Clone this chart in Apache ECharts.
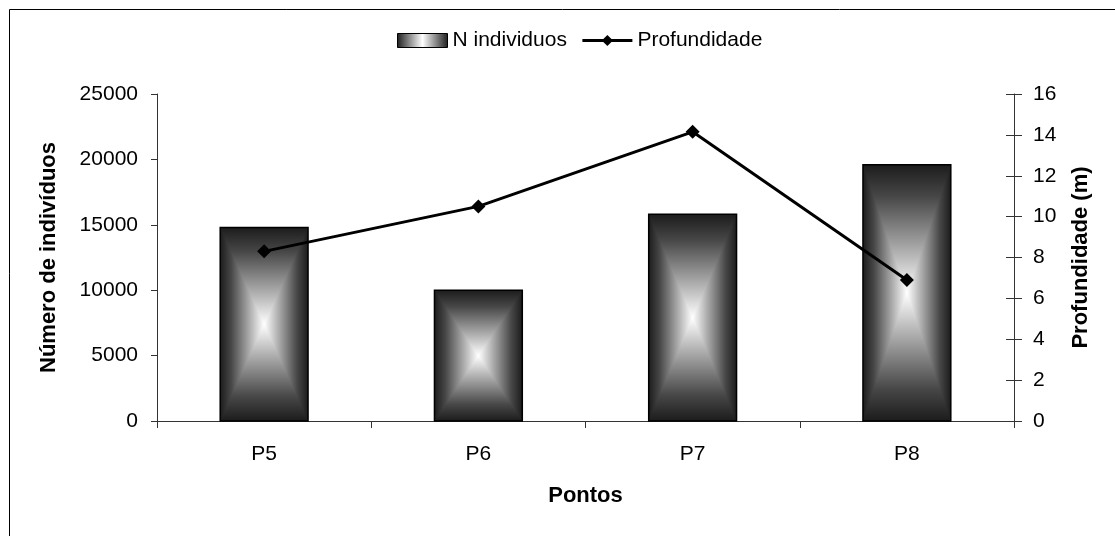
<!DOCTYPE html>
<html>
<head>
<meta charset="utf-8">
<script src="https://cdn.jsdelivr.net/npm/echarts@6/dist/echarts.min.js"></script>
<style>
html,body{margin:0;padding:0;background:#fff;}
#chart{width:1115px;height:536px;}
</style>
</head>
<body>
<div id="chart"></div>
<script>
const categories = ['P5', 'P6', 'P7', 'P8'];
const nIndividuos = [14800, 10000, 15800, 19600];
const profundidade = [8.3, 10.5, 14.15, 6.9];
const leftTicks = { min: 0, max: 25000, interval: 5000 };
const rightTicks = { min: 0, max: 16, interval: 2 };

const FONT = '"Liberation Sans", Arial, sans-serif';
const LABEL_SIZE = 21;
const NAME_SIZE = 22;
const DARK = '#1c1c1c';
const stopsEdgeToCenter = [
  { offset: 0, color: DARK },
  { offset: 0.25, color: '#474747' },
  { offset: 0.7, color: '#b4b4b4' },
  { offset: 1, color: '#ffffff' }
];
function lg(x0, y0, x1, y1, stops) {
  return new echarts.graphic.LinearGradient(x0, y0, x1, y1, stops);
}
const reversedStops = stopsEdgeToCenter.map(s => ({ offset: 1 - s.offset, color: s.color })).reverse();
const symmetricStops = stopsEdgeToCenter.map(s => ({ offset: s.offset / 2, color: s.color }))
  .concat(reversedStops.map(s => ({ offset: 0.5 + s.offset / 2, color: s.color })));

const legendGrad = lg(0, 0, 1, 0, [
  { offset: 0, color: DARK }, { offset: 0.5, color: '#ffffff' }, { offset: 1, color: DARK }
]);

const chart = echarts.init(document.getElementById('chart'), null, { renderer: 'canvas' });

function renderBar(params, api) {
  const idx = api.value(0);
  const v = api.value(1);
  const top = api.coord([idx, v]);
  const base = api.coord([idx, 0]);
  const w = api.size([1, 0])[0] * 0.41;
  const L = top[0] - w / 2, R = top[0] + w / 2, T = top[1], B = base[1];
  const cx = top[0], cy = (T + B) / 2;
  return {
    type: 'group',
    children: [
      { type: 'rect', shape: { x: L, y: T, width: w, height: B - T },
        style: { fill: lg(0, 0, 1, 0, symmetricStops), stroke: null } },
      { type: 'polygon', shape: { points: [[L, T], [R, T], [cx, cy]] },
        style: { fill: lg(0, 0, 0, 1, stopsEdgeToCenter), stroke: null } },
      { type: 'polygon', shape: { points: [[L, B], [R, B], [cx, cy]] },
        style: { fill: lg(0, 0, 0, 1, reversedStops), stroke: null } },
      { type: 'rect', shape: { x: L, y: T, width: w, height: B - T },
        style: { fill: null, stroke: '#000', lineWidth: 1.5 } }
    ]
  };
}

const axisLineStyle = { color: '#333', width: 1 };

chart.setOption({
  animation: false,
  backgroundColor: '#fff',
  textStyle: { fontFamily: FONT, color: '#000' },
  graphic: [{
    type: 'rect', silent: true, z: -10,
    shape: { x: 9.5, y: 9.5, width: 1300, height: 700 },
    style: { fill: null, stroke: '#000', lineWidth: 1 }
  }],
  legend: {
    left: 392, top: 25,
    itemWidth: 50, itemHeight: 14, itemGap: 14,
    lineStyle: { width: 3, color: '#000' },
    textStyle: { fontFamily: FONT, fontSize: LABEL_SIZE, color: '#000' },
    data: [
      { name: 'N individuos', icon: 'rect', itemStyle: { color: legendGrad, borderColor: '#000', borderWidth: 1 } },
      { name: 'Profundidade', itemStyle: { color: '#000' } }
    ]
  },
  grid: { left: 157, right: 101, top: 94, bottom: 115 },
  xAxis: {
    type: 'category',
    data: categories,
    boundaryGap: true,
    name: 'Pontos',
    nameLocation: 'middle',
    nameGap: 64,
    nameTextStyle: { fontFamily: FONT, fontSize: NAME_SIZE, fontWeight: 'bold', color: '#000' },
    axisLine: { lineStyle: axisLineStyle },
    axisTick: { show: true, length: 7, alignWithLabel: false, lineStyle: axisLineStyle },
    axisLabel: { fontFamily: FONT, fontSize: LABEL_SIZE, color: '#000', margin: 23 },
    splitLine: { show: false }
  },
  yAxis: [
    {
      type: 'value', position: 'left',
      min: leftTicks.min, max: leftTicks.max, interval: leftTicks.interval,
      name: 'Número de indivíduos', nameLocation: 'middle', nameGap: 97, nameRotate: 90,
      nameTextStyle: { fontFamily: FONT, fontSize: NAME_SIZE, fontWeight: 'bold', color: '#000' },
      axisLine: { show: true, lineStyle: axisLineStyle },
      axisTick: { show: true, length: 6, lineStyle: axisLineStyle },
      axisLabel: { fontFamily: FONT, fontSize: LABEL_SIZE, color: '#000', margin: 19,
        formatter: v => String(v) },
      splitLine: { show: false }
    },
    {
      type: 'value', position: 'right',
      min: rightTicks.min, max: rightTicks.max, interval: rightTicks.interval,
      name: 'Profundidade (m)', nameLocation: 'middle', nameGap: 56, nameRotate: 90,
      nameTextStyle: { fontFamily: FONT, fontSize: NAME_SIZE, fontWeight: 'bold', color: '#000' },
      axisLine: { show: true, lineStyle: axisLineStyle },
      axisTick: { show: true, length: 8, lineStyle: axisLineStyle },
      axisLabel: { fontFamily: FONT, fontSize: LABEL_SIZE, color: '#000', margin: 19 },
      splitLine: { show: false }
    },
    {
      type: 'value', position: 'right',
      min: rightTicks.min, max: rightTicks.max, interval: rightTicks.interval,
      axisLine: { show: false },
      axisTick: { show: true, inside: true, length: 8, lineStyle: axisLineStyle },
      axisLabel: { show: false },
      splitLine: { show: false }
    }
  ],
  series: [
    {
      name: 'N individuos',
      type: 'custom',
      xAxisIndex: 0, yAxisIndex: 0,
      itemStyle: { color: legendGrad, borderColor: '#000', borderWidth: 1 },
      encode: { x: 0, y: 1 },
      data: categories.map((c, i) => [i, nIndividuos[i]]),
      renderItem: renderBar,
      z: 2
    },
    {
      name: 'Profundidade',
      type: 'line',
      yAxisIndex: 1,
      data: profundidade,
      symbol: 'diamond',
      symbolSize: 14,
      lineStyle: { color: '#000', width: 3 },
      itemStyle: { color: '#000' },
      z: 5
    }
  ]
});
</script>
</body>
</html>
